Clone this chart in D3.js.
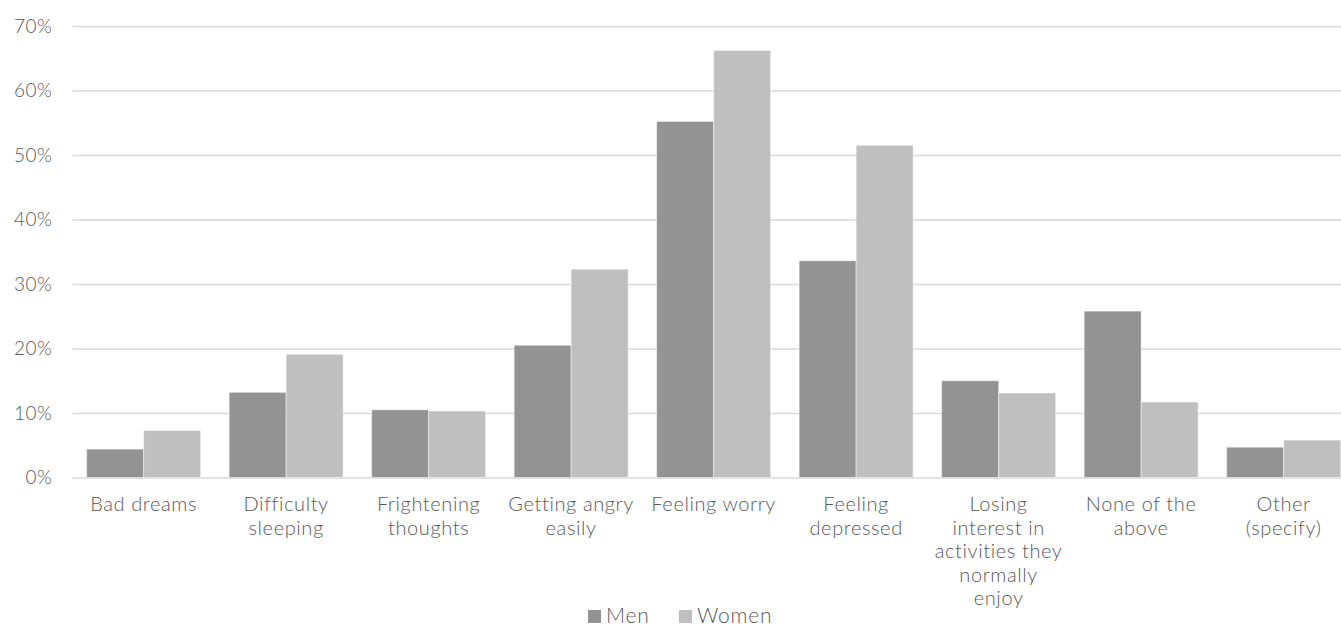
<!DOCTYPE html>
<html>
<head>
<meta charset="utf-8">
<script src="https://cdn.jsdelivr.net/npm/d3@7"></script>
<style>
  html, body { margin: 0; padding: 0; background: #ffffff; }
  svg { display: block; }
  text { font-family: Lato, "Open Sans", sans-serif; font-weight: 300; fill: #595959; }
</style>
</head>
<body>
<svg id="chart" width="1341" height="627"></svg>
<script>
// Symptoms reported, share of respondents by gender
const categories = [
  "Bad dreams",
  "Difficulty\nsleeping",
  "Frightening\nthoughts",
  "Getting angry\neasily",
  "Feeling worry",
  "Feeling\ndepressed",
  "Losing\ninterest in\nactivities they\nnormally\nenjoy",
  "None of the\nabove",
  "Other\n(specify)"
];
const seriesNames = ["Men", "Women"];
const menValues   = [4.4, 13.2, 10.5, 20.5, 55.2, 33.6, 15.0, 25.8, 4.7];
const womenValues = [7.3, 19.1, 10.3, 32.3, 66.2, 51.5, 13.1, 11.7, 5.8];
const yTicks = [0, 10, 20, 30, 40, 50, 60, 70];
const seriesColors = ["#939393", "#bfbfbf"];

const svg = d3.select("#chart");

const plot = { left: 72.4, right: 1354.9, top: 26, bottom: 477.5 };

const x = d3.scaleBand()
  .domain(categories)
  .range([plot.left, plot.right])
  .paddingInner(0)
  .paddingOuter(0);

const groupPad = x.bandwidth() * 0.1;
const xInner = d3.scaleBand()
  .domain(seriesNames)
  .range([groupPad, x.bandwidth() - groupPad])
  .padding(0);

const y = d3.scaleLinear()
  .domain([0, 70])
  .range([plot.bottom, plot.top]);

// Horizontal gridlines and value labels
const yAxis = d3.axisLeft(y)
  .tickValues(yTicks)
  .tickSize(-(plot.right - plot.left))
  .tickPadding(20)
  .tickFormat(d => d + "%");

const yg = svg.append("g")
  .attr("transform", `translate(${plot.left},0)`)
  .call(yAxis);
yg.select(".domain").remove();
yg.selectAll(".tick line")
  .attr("stroke", "#d9d9d9")
  .attr("stroke-width", 1.4);
yg.selectAll(".tick text")
  .attr("font-size", 19)
  .attr("fill", "#595959")
  .style("font-family", "Lato, sans-serif")
  .style("font-weight", 300)
  .style("letter-spacing", "0.5px");

// Bars
const rows = categories.map((c, i) => ({
  category: c,
  values: [
    { series: "Men", value: menValues[i] },
    { series: "Women", value: womenValues[i] }
  ]
}));

const groups = svg.append("g")
  .selectAll("g")
  .data(rows)
  .join("g")
  .attr("transform", d => `translate(${x(d.category)},0)`);

groups.selectAll("rect")
  .data(d => d.values)
  .join("rect")
  .attr("x", d => xInner(d.series))
  .attr("width", xInner.bandwidth())
  .attr("y", d => y(d.value))
  .attr("height", d => y(0) - y(d.value))
  .attr("fill", (d, i) => seriesColors[i])
  .attr("stroke", "#ffffff")
  .attr("stroke-opacity", 0.45)
  .attr("stroke-width", 1);

// Category labels under the axis
const xAxis = d3.axisBottom(x).tickSize(0).tickFormat("");
const xg = svg.append("g")
  .attr("transform", `translate(0,${plot.bottom})`)
  .call(xAxis);
xg.select(".domain").remove();

const labelG = svg.append("g");
categories.forEach(c => {
  const lines = c.split("\n");
  const cx = x(c) + x.bandwidth() / 2;
  const t = labelG.append("text")
    .attr("x", cx)
    .attr("y", 511)
    .attr("text-anchor", "middle")
    .attr("font-size", 20)
    .style("letter-spacing", "0.6px");
  lines.forEach((ln, j) => {
    t.append("tspan")
      .attr("x", cx)
      .attr("dy", j === 0 ? 0 : 23.5)
      .text(ln);
  });
});

// Legend
const legend = svg.append("g");
const legendItems = [
  { name: "Men", sx: 588, tx: 606 },
  { name: "Women", sx: 679, tx: 697 }
];
legendItems.forEach((it, i) => {
  legend.append("rect")
    .attr("x", it.sx)
    .attr("y", 610)
    .attr("width", 13)
    .attr("height", 13)
    .attr("fill", seriesColors[i]);
  legend.append("text")
    .attr("x", it.tx)
    .attr("y", 623)
    .attr("font-size", 21)
    .style("letter-spacing", "0.8px")
    .text(it.name);
});
</script>
</body>
</html>
